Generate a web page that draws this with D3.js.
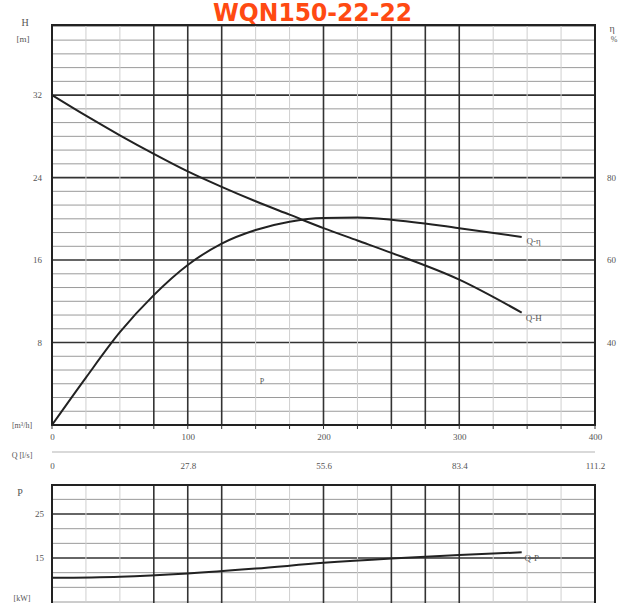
<!DOCTYPE html>
<html>
<head>
<meta charset="utf-8">
<script src="https://cdn.jsdelivr.net/npm/d3@7"></script>
<style>
  body { margin: 0; background: #fff; }
  text { font-family: "Liberation Serif", "DejaVu Serif", serif; }
</style>
</head>
<body>
<svg width="626" height="603"></svg>
<script>
// readings
var qFlow = [0, 25, 50, 75, 100, 125, 150, 175, 200, 225, 250, 300, 346];
var qHead = [32, 30, 28.1, 26.3, 24.6, 23.1, 21.7, 20.4, 19.1, 17.9, 16.7, 14.1, 10.9];
var qEff = [20, 31.5, 42.5, 51.5, 58.8, 64, 67.3, 69.3, 70.2, 70.3, 69.8, 67.7, 65.6];
var pFlow = [0, 50, 100, 150, 200, 250, 300, 346];
var pPower = [10.5, 10.75, 11.5, 12.6, 13.9, 14.9, 15.7, 16.3];

var qTicks = [0, 100, 200, 300, 400];
var lsTicks = [0, 27.8, 55.6, 83.4, 111.2];
var hTicks = [8, 16, 24, 32];
var effTicks = [40, 60, 80];
var pTicks = [15, 25];
var darkQ = [75, 100, 125, 200, 250, 275, 300];

var svg = d3.select('svg');
var left = 52, right = 595;

var x = d3.scaleLinear().domain([0, 400]).range([left, right]);
var xLs = d3.scaleLinear().domain([0, 111.2]).range([left, right]);
var yH = d3.scaleLinear().domain([0, 38.8]).range([425, 25]);
var yEff = d3.scaleLinear().domain([20, 117]).range([425, 25]);
var yP = d3.scaleLinear().domain([0, 31.6]).range([624, 485]);

// title
svg.append('text')
    .attr('x', 213).attr('y', 21)
    .attr('textLength', 199)
    .attr('lengthAdjust', 'spacingAndGlyphs')
    .style('font-family', '"DejaVu Sans", "Liberation Sans", sans-serif')
    .style('font-weight', 'bold')
    .style('font-size', '24px')
    .attr('fill', '#ff4a12')
    .text('WQN150-22-22');

function grid(g, yScale, hLines, darkH, y0, y1) {
    // horizontal lines
    g.selectAll('.hl').data(hLines).enter().append('line')
        .attr('x1', left).attr('x2', right)
        .attr('y1', d => yScale(d)).attr('y2', d => yScale(d))
        .attr('stroke', d => darkH.some(v => Math.abs(v - d) < 0.01) ? '#333' : '#9a9a9a')
        .attr('stroke-width', d => darkH.some(v => Math.abs(v - d) < 0.01) ? 1.6 : 1);
    // vertical lines every 25
    var vs = d3.range(25, 400, 25);
    g.selectAll('.vl').data(vs).enter().append('line')
        .attr('y1', y0).attr('y2', y1)
        .attr('x1', d => x(d)).attr('x2', d => x(d))
        .attr('stroke', d => darkQ.indexOf(d) >= 0 ? '#333' : '#cfcfcf')
        .attr('stroke-width', d => darkQ.indexOf(d) >= 0 ? 1.6 : 1);
    g.append('rect')
        .attr('x', left).attr('y', y0)
        .attr('width', right - left).attr('height', y1 - y0)
        .attr('fill', 'none').attr('stroke', '#222').attr('stroke-width', 2);
}

// upper chart grid
var hLines = d3.range(1, 30).map(k => k * 8 / 6);
var gTop = svg.append('g');
grid(gTop, yH, hLines, hTicks, 25, 425);

// lower chart grid
var pLines = d3.range(-3, 6).map(k => 15 + k * 10 / 3);
var gBot = svg.append('g');
grid(gBot, yP, pLines, pTicks, 485, 624);

// axes text
function styleAxis(g) {
    g.select('.domain').remove();
    g.selectAll('text')
        .style('font-family', '"Liberation Serif", serif')
        .style('font-size', '9px')
        .attr('fill', '#555');
}

svg.append('g')
    .attr('transform', 'translate(0,425)')
    .call(d3.axisBottom(x).tickValues(qTicks).tickSize(0).tickPadding(9))
    .call(styleAxis);

svg.append('g')
    .attr('transform', 'translate(0,457)')
    .call(d3.axisBottom(xLs).tickValues(lsTicks).tickFormat(d3.format('')).tickSize(0).tickPadding(6))
    .call(styleAxis);

svg.append('line')
    .attr('x1', left).attr('x2', right).attr('y1', 452).attr('y2', 452)
    .attr('stroke', '#ccc').attr('stroke-width', 1.5);

svg.append('g')
    .attr('transform', 'translate(' + left + ',0)')
    .call(d3.axisLeft(yH).tickValues(hTicks).tickSize(0).tickPadding(10))
    .call(styleAxis);

svg.append('g')
    .attr('transform', 'translate(' + right + ',0)')
    .call(d3.axisRight(yEff).tickValues(effTicks).tickSize(0).tickPadding(12))
    .call(styleAxis);

svg.append('g')
    .attr('transform', 'translate(' + left + ',0)')
    .call(d3.axisLeft(yP).tickValues(pTicks).tickSize(0).tickPadding(8))
    .call(styleAxis);

// small tick marks along bottom of upper chart
svg.append('g').selectAll('line').data(d3.range(0, 401, 25)).enter().append('line')
    .attr('x1', d => x(d)).attr('x2', d => x(d))
    .attr('y1', 425).attr('y2', 429)
    .attr('stroke', '#333');

function label(tx, ty, str, size, anchor) {
    svg.append('text')
        .attr('x', tx).attr('y', ty)
        .attr('text-anchor', anchor || 'middle')
        .style('font-size', (size || 9) + 'px')
        .attr('fill', '#555')
        .text(str);
}

label(25, 26, 'H', 10);
label(23, 42, '[m]', 9);
label(612, 32, 'η', 10);
label(614, 42, '%', 8);
label(22, 428, '[m³/h]', 8);
label(22, 458, 'Q [l/s]', 8);
label(20, 496, 'P', 10);
label(22, 601, '[kW]', 8);
label(262, 384, 'P', 8);

// curves
var lineH = d3.line()
    .x((d, i) => x(qFlow[i]))
    .y(d => yH(d))
    .curve(d3.curveMonotoneX);

var lineE = d3.line()
    .x((d, i) => x(qFlow[i]))
    .y(d => yEff(d))
    .curve(d3.curveMonotoneX);

var lineP = d3.line()
    .x((d, i) => x(pFlow[i]))
    .y(d => yP(d))
    .curve(d3.curveMonotoneX);

svg.append('path').attr('d', lineH(qHead))
    .attr('fill', 'none').attr('stroke', '#222').attr('stroke-width', 2);
svg.append('path').attr('d', lineE(qEff))
    .attr('fill', 'none').attr('stroke', '#222').attr('stroke-width', 2);
svg.append('path').attr('d', lineP(pPower))
    .attr('fill', 'none').attr('stroke', '#222').attr('stroke-width', 2);

// curve names
var endQ = qFlow[qFlow.length - 1];
label(x(endQ) + 12, yEff(qEff[qEff.length - 1]) + 7, 'Q-η', 9);
label(x(endQ) + 12, yH(qHead[qHead.length - 1]) + 8, 'Q-H', 9);
label(x(endQ) + 10, yP(pPower[pPower.length - 1]) + 9, 'Q-P', 9);
</script>
</body>
</html>
